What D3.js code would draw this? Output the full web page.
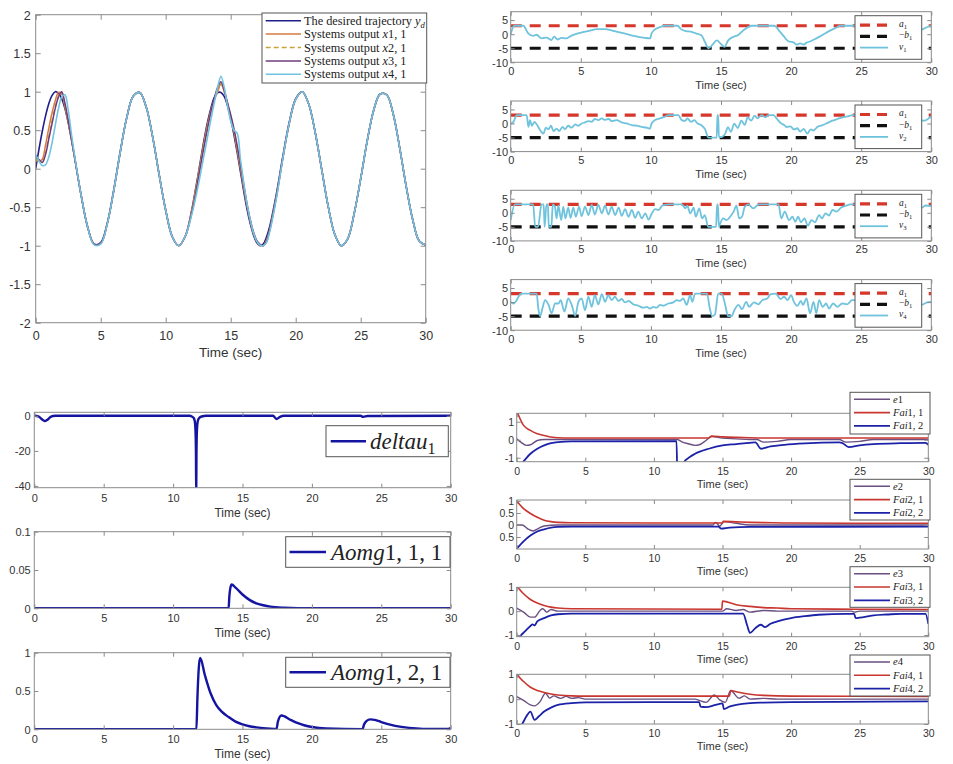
<!DOCTYPE html>
<html><head><meta charset="utf-8">
<script src="https://cdn.jsdelivr.net/npm/d3@7"></script>
<style>body{margin:0;background:#fff}svg{display:block}</style>
</head><body>
<svg id="c" width="953" height="764"></svg>
<script>
// ---------------- DATA ----------------
const xTicks = [0, 5, 10, 15, 20, 25, 30];

// Top-left: tracking
const tOut = [0,0.25,0.5,0.75,1,1.25,1.5,1.75,2,2.25,2.5,2.75,3,
  3.5,4,4.5,5,5.5,6,6.5,7,7.5,8,8.5,9,9.5,10,10.5,11,11.5,
  12,12.25,12.5,12.75,13,13.25,13.5,13.75,14,14.25,14.5,14.75,15,15.25,15.5,15.75,16,16.25,16.5,16.75,17,17.25,17.5,17.75,18,
  18.5,19,19.5,20,20.5,21,21.5,22,22.5,23,23.5,24,24.5,25,25.5,26,26.5,27,27.5,28,28.5,29,29.5,30];
const yd = [0,0.25,0.48,0.68,0.84,0.95,1.0,0.98,0.91,0.78,0.6,0.38,0.14,
  -0.35,-0.76,-0.98,-0.96,-0.71,-0.28,0.22,0.66,0.94,0.99,0.8,0.41,-0.08,-0.54,-0.88,-1.0,-0.88,
  -0.54,-0.31,-0.07,0.18,0.42,0.63,0.8,0.93,0.99,0.99,0.94,0.82,0.65,0.44,0.21,-0.04,-0.29,-0.52,-0.71,-0.86,-0.96,-1.0,-0.98,-0.89,-0.75,
  -0.34,0.15,0.6,0.91,1.0,0.84,0.47,-0.01,-0.49,-0.85,-1.0,-0.91,-0.58,-0.13,0.36,0.76,0.97,0.96,0.71,0.27,-0.23,-0.66,-0.94,-0.99];
const x11 = [0.1,0.1,0.12,0.3,0.52,0.72,0.88,0.99,0.97,0.8,0.6,0.38,0.14,
  -0.35,-0.76,-0.98,-0.97,-0.72,-0.29,0.21,0.66,0.94,0.99,0.8,0.41,-0.08,-0.54,-0.88,-1.0,-0.88,
  -0.55,-0.33,-0.09,0.15,0.39,0.6,0.77,0.9,1.0,1.1,1.0,0.85,0.68,0.48,0.24,0.0,-0.25,-0.48,-0.68,-0.84,-0.94,-0.99,-1.0,-0.93,-0.79,
  -0.37,0.12,0.58,0.9,1.0,0.84,0.47,-0.01,-0.49,-0.85,-1.0,-0.91,-0.58,-0.13,0.36,0.76,0.97,0.96,0.71,0.27,-0.23,-0.66,-0.94,-0.99];
const x21 = [0.12,0.1,0.08,0.2,0.42,0.62,0.8,0.94,0.99,0.82,0.62,0.39,0.14,
  -0.35,-0.76,-0.98,-0.97,-0.72,-0.29,0.21,0.66,0.94,0.99,0.8,0.41,-0.08,-0.54,-0.88,-1.0,-0.88,
  -0.56,-0.34,-0.1,0.14,0.37,0.58,0.76,0.9,1.01,1.11,1.01,0.85,0.69,0.49,0.26,0.02,-0.23,-0.47,-0.67,-0.83,-0.94,-0.99,-1.0,-0.94,-0.8,
  -0.38,0.12,0.58,0.9,1.0,0.84,0.47,-0.01,-0.49,-0.85,-1.0,-0.91,-0.58,-0.13,0.36,0.76,0.97,0.96,0.71,0.27,-0.23,-0.66,-0.94,-0.99];
const x31 = [0.15,0.12,0.08,0.18,0.38,0.58,0.78,0.93,1.0,0.85,0.63,0.39,0.14,
  -0.35,-0.76,-0.98,-0.97,-0.72,-0.29,0.21,0.66,0.94,0.99,0.8,0.41,-0.08,-0.54,-0.88,-1.0,-0.88,
  -0.58,-0.38,-0.14,0.1,0.33,0.55,0.75,0.92,1.06,1.13,1.02,0.86,0.7,0.52,0.3,0.05,-0.2,-0.45,-0.66,-0.82,-0.93,-0.98,-1.0,-0.95,-0.8,
  -0.38,0.13,0.59,0.9,1.0,0.84,0.47,-0.01,-0.49,-0.85,-1.0,-0.91,-0.58,-0.13,0.36,0.76,0.97,0.96,0.71,0.27,-0.23,-0.66,-0.94,-0.99];
const x41 = [0.18,0.1,0.04,0.05,0.15,0.33,0.56,0.78,0.93,0.96,0.76,0.45,0.16,
  -0.35,-0.76,-0.99,-0.98,-0.72,-0.29,0.21,0.66,0.94,0.99,0.8,0.41,-0.08,-0.54,-0.88,-1.0,-0.88,
  -0.6,-0.42,-0.22,0.0,0.22,0.44,0.66,0.87,1.06,1.2,1.06,0.82,0.62,0.5,0.46,0.12,-0.18,-0.45,-0.66,-0.83,-0.94,-0.99,-1.0,-0.96,-0.82,
  -0.4,0.12,0.59,0.9,1.0,0.84,0.47,-0.01,-0.49,-0.85,-1.0,-0.91,-0.58,-0.13,0.36,0.76,0.97,0.96,0.71,0.27,-0.23,-0.66,-0.94,-0.99];

// Top-right: bounds and virtual controls
const a1 = 3, negB1 = -5;
const v1 = [[0,0],[0.25,3],[0.9,3],[1.25,0.3],[1.6,-0.6],[1.85,-0.2],[2.2,-1.5],[2.55,-1.2],[2.9,-2.1],[3.1,-0.9],[3.35,-1.9],[3.6,-1.3],[3.95,-1.5],[4.3,-0.6],[4.8,0.3],[5.5,1.1],[6.2,1.8],[6.7,1.8],[7.4,1.1],[8.1,0.3],[8.85,-0.7],[9.55,-1.3],[9.95,-1.5],[10.05,0.3],[10.25,1.5],[10.7,2.6],[10.95,3],[11.9,3],[12.15,1.8],[12.5,1.1],[12.85,0.9],[13.2,0.3],[13.6,-0.4],[13.85,-2.7],[14.1,-5],[14.35,-4],[14.7,-2.2],[15.0,-3.5],[15.25,-4.5],[15.5,-2.3],[15.9,-0.9],[16.2,-0.4],[16.6,1.4],[16.95,2.6],[17.2,3],[18.8,3],[19.2,0.9],[19.5,-0.9],[19.8,-2.5],[20.2,-3],[20.4,-3.7],[20.65,-3.3],[20.9,-3.7],[21.1,-3],[21.4,-2.5],[21.8,-1.5],[22.2,-0.4],[22.7,1.1],[23.2,2.3],[23.5,3],[27,3],[29.3,1.6],[29.6,2.3],[30,3]];
const v2 = [[0,0],[0.2,0.6],[0.43,3],[1.14,3],[1.26,-1.2],[1.38,1.2],[1.5,-0.8],[1.69,0.6],[1.85,-0.3],[2.1,-2.4],[2.33,-3.6],[2.5,-1.5],[2.7,-2],[2.88,-0.8],[3.05,-2.7],[3.28,-1.8],[3.45,-2.7],[3.7,-1.2],[3.87,-2],[4.1,-0.8],[4.35,-1.5],[4.6,-0.3],[4.82,-0.8],[5.06,0],[5.3,0.4],[5.54,0.85],[5.78,0.6],[6.0,1.6],[6.25,1.2],[6.5,1.8],[6.73,1.3],[7.0,1.6],[7.2,0.85],[7.56,1.2],[7.9,0.4],[8.27,0],[8.63,-0.6],[9.0,-0.8],[9.34,-1.2],[9.7,-1.5],[9.94,-1.8],[10.05,0],[10.3,1.2],[10.65,1.8],[11.0,2.4],[11.25,3],[11.95,3],[12.2,1.2],[12.43,0.9],[12.6,1.8],[12.86,0.6],[13.1,1.2],[13.33,0],[13.6,-0.6],[13.86,-2],[14.1,-5],[14.7,-5],[14.74,3],[14.8,3],[14.85,-4.8],[15.05,-4.8],[15.3,-3.6],[15.5,-1.3],[15.7,-3],[15.95,-0.1],[16.2,-1.6],[16.45,1],[16.7,-0.5],[16.9,2.2],[17.15,1],[17.4,2.8],[17.6,1.8],[17.9,3],[18.15,2.2],[18.4,3],[18.75,3],[19.0,1.6],[19.25,0.2],[19.5,-0.5],[19.7,-1.3],[19.95,-1.0],[20.2,-2.1],[20.45,-1.7],[20.65,-2.9],[20.9,-1.9],[21.15,-3.6],[21.4,-2.1],[21.6,-2.5],[21.85,-1.3],[22.2,-0.7],[22.6,0.2],[22.95,1],[23.3,1.6],[23.65,2.2],[24.0,2.5],[24.4,3],[27,3],[29.5,1],[30,2.6]];
const v3 = [[0,-2.6],[0.3,3],[1.6,3],[1.75,-5],[1.95,-5],[2.2,3],[2.35,3],[2.42,-5],[2.55,3],[2.65,3],[2.72,-5],[2.9,-5],[3.0,3],[3.15,2.2],[3.27,-2],[3.4,2.5],[3.6,-2.6],[3.75,2.2],[3.9,-2],[4.1,1.8],[4.27,-1.8],[4.46,1.8],[4.65,-1.4],[4.87,2.2],[5.06,-1.2],[5.3,2.2],[5.54,-0.8],[5.78,2.8],[6.0,-0.6],[6.25,2.8],[6.5,-0.2],[6.73,2.5],[6.97,-0.6],[7.2,2.2],[7.45,-0.8],[7.7,1.8],[7.92,-1.1],[8.16,1.3],[8.4,-1.4],[8.64,1.0],[8.88,-1.8],[9.1,0.4],[9.35,-2],[9.6,-0.2],[9.83,-2.4],[10.07,-0.2],[10.3,1.3],[10.55,1.0],[10.8,2.5],[11.0,2.8],[11.3,3],[12.2,3],[12.45,1.6],[12.6,2.5],[12.8,-0.2],[13.05,1.8],[13.2,-1.4],[13.45,1.6],[13.65,-2],[13.85,-0.8],[14.08,-5],[14.65,-5],[14.72,3],[14.78,3],[14.85,-5],[14.9,-4.4],[15.15,-2],[15.4,-2.6],[15.65,-1.4],[15.9,0.4],[16.1,2.5],[16.3,-2],[16.5,-1.4],[16.7,2.2],[16.95,3],[17.3,1.6],[17.7,3],[19.1,3],[19.3,-2],[19.55,0.4],[19.85,-2.6],[20.1,-1.4],[20.3,-3.2],[20.5,-1.4],[20.7,-3.4],[20.95,-2],[21.2,-4.6],[21.45,-2.6],[21.7,-3.4],[22.0,-0.8],[22.2,-2],[22.45,-0.2],[22.7,-1.0],[22.95,1],[23.25,0.4],[23.55,1.8],[23.9,2.5],[24.25,3],[27,3],[29.3,1.8],[29.6,2.6],[30,2.4]];
const v4 = [[0,0.1],[0.2,-0.5],[0.43,0.7],[0.67,2.8],[0.78,3],[1.85,3],[1.97,-2.3],[2.1,-5],[2.26,-2.3],[2.45,0.7],[2.7,-1],[2.92,-4],[3.16,-0.5],[3.4,-0.5],[3.57,0.7],[3.83,-3.4],[4.1,1.3],[4.35,-1],[4.6,-4.9],[4.83,0.1],[5.06,1.3],[5.3,-2.9],[5.54,1.9],[5.78,-1.7],[6.0,2.5],[6.25,-0.8],[6.5,2.8],[6.73,0.1],[6.96,2.5],[7.2,0.7],[7.44,1.9],[7.68,0.4],[7.92,1.1],[8.15,-0.1],[8.4,0.4],[8.75,-0.8],[9.1,-1.3],[9.46,-2],[9.7,-1.7],[9.94,-2.3],[10.17,-1.7],[10.4,-2],[10.65,-1],[10.9,-1.3],[11.24,-0.5],[11.6,-0.1],[11.84,0.7],[12.07,0.4],[12.3,1.3],[12.55,-1],[12.8,2.5],[12.95,0.1],[13.15,3],[14.0,3],[14.2,-2.3],[14.38,-5],[14.57,-4.4],[14.8,3],[15.05,3],[15.3,-1],[15.5,-5],[15.75,-5],[15.95,-2.9],[16.25,-1],[16.5,-2.5],[16.8,0.1],[17.0,-1.7],[17.35,-0.1],[17.65,-0.8],[17.95,0.7],[18.3,1.3],[18.55,2.8],[18.9,3],[19.25,1.1],[19.5,1.9],[19.75,0.7],[20.0,2.5],[20.2,0.1],[20.45,-1.3],[20.7,0.4],[20.85,-1],[21.1,1.3],[21.35,-4],[21.6,0.1],[21.8,-4],[22.0,0.7],[22.25,-1.7],[22.5,-0.5],[22.7,-2.3],[23.0,-0.5],[23.3,-1.7],[23.65,-0.5],[24.0,-0.8],[24.35,0.7],[26,0.5],[29.3,-1],[29.7,-0.1],[30,0.1]];

// Bottom-left
const deltau1 = [[0,0],[0.3,-0.3],[0.55,-2],[0.75,-3],[0.95,-2.2],[1.2,-0.5],[1.5,0],[11.2,0],[11.35,-0.4],[11.48,-1.2],[11.56,-3],[11.61,-8],[11.645,-20],[11.665,-45],[11.685,-20],[11.72,-8],[11.78,-3],[11.88,-1.2],[12.05,-0.4],[12.4,0],[17.2,0],[17.45,-1.8],[17.7,-0.6],[18,0],[23.5,0],[23.7,-0.6],[24,-0.1],[30,0]];
const aomg111 = [[0,0],[14.0,0],[14.05,0.015],[14.12,0.026],[14.22,0.031],[14.5,0.027],[15,0.018],[15.5,0.011],[16,0.0065],[16.5,0.004],[17,0.0022],[18,0.0007],[19,0.0002],[30,0]];
const aomg121 = [[0,0],[11.68,0],[11.75,0.4],[11.85,0.8],[11.95,0.93],[12.3,0.7],[12.7,0.47],[13.1,0.32],[13.5,0.23],[14,0.16],[14.5,0.1],[15,0.065],[15.5,0.04],[16,0.025],[17,0.008],[17.45,0.005],[17.55,0.1],[17.8,0.18],[18.5,0.12],[19,0.08],[19.5,0.05],[20,0.03],[21,0.01],[23.65,0.002],[23.75,0.06],[23.95,0.11],[24.2,0.13],[24.6,0.12],[25,0.095],[26,0.045],[27,0.018],[28,0.006],[29.7,0.003],[30,0.015]];

// Bottom-right
const e1 = [[0,0.05],[0.3,-0.13],[0.7,-0.31],[1.0,-0.28],[1.5,-0.04],[2,0.01],[11.7,0.01],[12,-0.1],[12.5,-0.22],[13,-0.31],[13.3,-0.28],[13.8,-0.04],[14.2,0.18],[15,0.09],[16,0.05],[17,0.01],[17.5,0.01],[18,-0.13],[19,-0.09],[20,0.01],[23.5,0.01],[24,-0.13],[25,-0.09],[26,0.01],[30,0.01]];
const fai11 = [[0,1.6],[0.5,0.8],[1,0.52],[1.5,0.33],[2,0.24],[2.5,0.15],[3,0.11],[4,0.1],[14,0.1],[14.2,0.2],[15,0.16],[16,0.13],[17,0.11],[18,0.1],[30,0.1]];
const fai12 = [[0,-1.6],[0.5,-1.2],[1,-0.78],[1.5,-0.5],[2,-0.31],[2.5,-0.19],[3,-0.13],[4,-0.09],[11.65,-0.08],[11.72,-2.5],[12.0,-1.7],[12.2,-1.24],[12.5,-1.02],[13,-0.78],[14,-0.5],[15,-0.31],[16,-0.24],[17,-0.17],[17.4,-0.15],[17.8,-0.5],[18.5,-0.37],[19.5,-0.28],[21,-0.2],[23.5,-0.15],[23.7,-0.17],[24.2,-0.41],[25,-0.31],[26,-0.24],[28,-0.19],[29.8,-0.17],[30,-0.28]];
const e2 = [[0,0],[0.4,0],[0.8,-0.16],[1.2,-0.25],[1.6,-0.14],[2,-0.04],[3,0],[14.3,0],[14.5,0.11],[14.8,-0.05],[15.1,0.14],[16,0.07],[17,0],[30,0]];
const fai21 = [[0,1.0],[0.5,0.68],[1,0.48],[1.5,0.32],[2,0.2],[2.5,0.14],[3,0.11],[4,0.09],[15,0.08],[15.05,0.15],[16,0.13],[17,0.11],[18,0.1],[20,0.08],[30,0.07]];
const fai22 = [[0,-0.99],[0.5,-0.68],[1,-0.44],[1.5,-0.27],[2,-0.18],[2.5,-0.11],[3,-0.08],[4,-0.07],[14.7,-0.07],[14.9,-0.15],[15.5,-0.11],[17,-0.08],[30,-0.07]];
const e3 = [[0,0.13],[0.5,-0.04],[1,-0.25],[1.3,-0.25],[1.7,0.03],[1.9,0.1],[2.2,-0.04],[2.5,0.07],[3,0],[15,0],[15.3,0.1],[16,0.03],[16.5,0.07],[17,-0.04],[18,0.03],[19,0],[24.4,0],[24.6,-0.04],[25,0],[30,0]];
const fai31 = [[0,1.05],[0.5,0.73],[1,0.49],[1.5,0.34],[2,0.24],[2.5,0.17],[3,0.13],[4,0.1],[14.95,0.08],[15.0,0.42],[16,0.27],[17,0.2],[18,0.15],[19,0.13],[20,0.1],[25,0.08],[30,0.07]];
const fai32 = [[0,-1.3],[0.3,-1.02],[0.6,-0.85],[1,-0.62],[1.15,-0.55],[1.3,-0.6],[1.5,-0.43],[2,-0.29],[2.5,-0.18],[3,-0.13],[4,-0.1],[16.5,-0.1],[16.8,-0.6],[17.0,-0.91],[17.4,-0.71],[17.8,-0.57],[18.1,-0.67],[18.5,-0.53],[19,-0.43],[20,-0.29],[21,-0.21],[22,-0.15],[24,-0.11],[24.6,-0.11],[24.7,-0.29],[25,-0.27],[26,-0.18],[27,-0.14],[28,-0.11],[29.8,-0.11],[30,-0.53]];
const e4 = [[0,0.1],[0.5,-0.05],[1,-0.23],[1.3,-0.27],[1.7,-0.1],[2.1,0.24],[2.4,0.04],[2.7,0.13],[3.2,0.03],[3.6,0.11],[4,0.03],[4.5,0.06],[5,0],[13,0],[13.3,-0.05],[13.8,-0.13],[14.4,0.17],[14.8,-0.03],[15.2,-0.13],[15.6,0.35],[16.2,0.04],[16.6,0.13],[17,0],[18,0.03],[19,0],[30,0]];
const fai41 = [[0,1.0],[0.5,0.71],[1,0.48],[1.5,0.35],[2,0.27],[2.5,0.21],[3,0.17],[4,0.13],[5,0.12],[15.5,0.12],[15.6,0.35],[16,0.3],[17,0.2],[18,0.15],[20,0.12],[30,0.11]];
const fai42 = [[0,-1.3],[0.4,-1.0],[0.7,-0.7],[1.0,-0.5],[1.3,-0.83],[1.6,-0.7],[2,-0.5],[2.5,-0.34],[3,-0.23],[4,-0.16],[5,-0.13],[13.3,-0.12],[13.4,-0.3],[13.8,-0.32],[14.5,-0.23],[15,-0.17],[15.1,-0.4],[15.5,-0.3],[16,-0.23],[17,-0.16],[18,-0.14],[20,-0.12],[30,-0.09]];

// ---------------- DRAWING ----------------
const svg = d3.select('#c');
const SANS = 'Liberation Sans, Arial, Helvetica, sans-serif';
const SERIF = 'Liberation Serif, Times New Roman, DejaVu Serif, serif';
const AX = '#8a8a8a', TXT = '#333';
let clipN = 0;
const defs = svg.append('defs');
const leftRoot = svg.append('g');
const rightRoot = svg.append('g');

function pairs(t, v){ return t.map((d,i)=>[d, v[i]]); }

function panel(root, o){
  const g = root.append('g');
  const x = d3.scaleLinear().domain([0,30]).range([o.x0,o.x1]);
  const y = d3.scaleLinear().domain(o.yd).range([o.y1,o.y0]);
  const id = 'cp'+(clipN++);
  defs.append('clipPath').attr('id',id).append('rect').attr('x',o.x0).attr('y',o.y0).attr('width',o.x1-o.x0).attr('height',o.y1-o.y0);
  g.append('rect').attr('x',o.x0).attr('y',o.y0).attr('width',o.x1-o.x0).attr('height',o.y1-o.y0).attr('fill','#fff');
  const line = d3.line().x(d=>x(d[0])).y(d=>y(d[1])).curve(o.curve || d3.curveMonotoneX);
  const lg = g.append('g').attr('clip-path',`url(#${id})`);
  o.series.forEach(s=>{
    lg.append('path').attr('d', line(s.data)).attr('fill','none').attr('stroke',s.c)
      .attr('stroke-width',s.w).attr('stroke-dasharray',s.dash||null).attr('stroke-linejoin','round');
  });
  const tl = o.tl || 4;
  const style = sel => { sel.select('.domain').remove(); sel.selectAll('line').attr('stroke',AX);
    sel.selectAll('text').attr('fill',TXT).attr('font-size',o.fs).attr('font-family',SANS); };
  const xb = g.append('g').attr('transform',`translate(0,${o.y1})`)
    .call(d3.axisBottom(x).tickValues(xTicks).tickSize(-tl).tickFormat(d=>String(d)));
  style(xb); xb.selectAll('text').attr('y',o.xlOff).attr('dy','0.35em');
  const xt = g.append('g').attr('transform',`translate(0,${o.y0})`)
    .call(d3.axisTop(x).tickValues(xTicks).tickSize(-tl).tickFormat(''));
  style(xt);
  const yl = g.append('g').attr('transform',`translate(${o.x0},0)`)
    .call(d3.axisLeft(y).tickValues(o.yt).tickSize(-tl).tickFormat(o.yf || (d=>String(d))));
  style(yl); yl.selectAll('text').attr('x',o.ylX-o.x0).attr('dy','0.35em');
  const yr = g.append('g').attr('transform',`translate(${o.x1},0)`)
    .call(d3.axisRight(y).tickValues(o.yt).tickSize(-tl).tickFormat(''));
  style(yr);
  g.append('rect').attr('x',o.x0).attr('y',o.y0).attr('width',o.x1-o.x0).attr('height',o.y1-o.y0)
    .attr('fill','none').attr('stroke',AX).attr('stroke-width',1);
  g.append('text').attr('x',(o.x0+o.x1)/2).attr('y',o.y1+o.labOff).attr('dy','0.35em')
    .attr('text-anchor','middle').attr('font-family',SANS).attr('font-size',o.labFs).attr('fill',TXT).text('Time (sec)');
  return {x,y,g};
}

function rich(g, x, y, parts, size, subShift){
  const t = g.append('text').attr('x',x).attr('y',y).attr('font-size',size).attr('font-family',SERIF).attr('fill','#222');
  let shift = 0;
  parts.forEach(p=>{
    const s = t.append('tspan').text(p.t);
    if (p.i) s.attr('font-style','italic');
    const target = p.sub ? size*(subShift||0.3) : 0;
    if (target !== shift){ s.attr('dy', target-shift); shift = target; }
    if (p.sub) s.attr('font-size', size*0.7);
  });
}

function legend(root, o){
  const g = root.append('g');
  g.append('rect').attr('x',o.x).attr('y',o.y).attr('width',o.w).attr('height',o.h)
    .attr('fill','#fff').attr('stroke','#555').attr('stroke-width',1);
  o.rows.forEach((r,i)=>{
    const cy = o.y + o.r0 + i*o.dr;
    g.append('line').attr('x1',o.lx0).attr('x2',o.lx1).attr('y1',cy).attr('y2',cy)
      .attr('stroke',r.c).attr('stroke-width',r.w).attr('stroke-dasharray',r.dash||null);
    rich(g, o.tx, cy + o.fs*(o.base||0.33), r.parts, o.fs, o.sub);
  });
}

// ---- Top-left ----
const C_YD = '#1f1f8a', C_X1 = '#d77a42', C_X2 = '#c9a23a', C_X3 = '#6e3c7e', C_X4 = '#72c2e2';
panel(leftRoot, {x0:35.7,x1:425.7,y0:14.7,y1:322.7,yd:[-2,2],yt:[-2,-1.5,-1,-0.5,0,0.5,1,1.5,2],
  fs:12.5,xlOff:12.5,labOff:29.5,labFs:13.5,ylX:30.7,tl:5, curve:d3.curveCatmullRom,
  series:[
    {data:pairs(tOut,yd),c:C_YD,w:1.6},
    {data:pairs(tOut,x11),c:C_X1,w:1.5},
    {data:pairs(tOut,x21),c:C_X2,w:1.3,dash:'5,3'},
    {data:pairs(tOut,x31),c:C_X3,w:1.5},
    {data:pairs(tOut,x41),c:C_X4,w:1.6}
  ]});
legend(leftRoot,{x:262,y:13,w:164.7,h:70,r0:7.7,dr:13.4,lx0:265.7,lx1:301,tx:304,fs:12.3,
  rows:[
    {c:C_YD,w:1.6,parts:[{t:'The desired trajectory '},{t:'y',i:true},{t:'d',i:true,sub:true}]},
    {c:C_X1,w:1.5,parts:[{t:'Systems output '},{t:'x',i:true},{t:'1, 1'}]},
    {c:C_X2,w:1.3,dash:'5,3',parts:[{t:'Systems output '},{t:'x',i:true},{t:'2, 1'}]},
    {c:C_X3,w:1.5,parts:[{t:'Systems output '},{t:'x',i:true},{t:'3, 1'}]},
    {c:C_X4,w:1.6,parts:[{t:'Systems output '},{t:'x',i:true},{t:'4, 1'}]}
  ]});

// ---- Top-right ----
const C_A = '#d6372b', C_B = '#111', C_V = '#6fc3dc';
const vs = [v1,v2,v3,v4];
const tops = [11.7,101,190.3,279.6];
vs.forEach((v,k)=>{
  const top = tops[k];
  panel(rightRoot,{x0:510.7,x1:931.3,y0:top,y1:top+50.6,yd:[-10,8],yt:[-10,-5,0,5],
    fs:11,xlOff:8.7,labOff:22.7,labFs:11,ylX:508,tl:4,curve:d3.curveMonotoneX,
    series:[
      {data:[[0,a1],[30,a1]],c:C_A,w:3.2,dash:'11,8'},
      {data:[[0,negB1],[30,negB1]],c:C_B,w:3.2,dash:'11,8'},
      {data:v,c:C_V,w:1.8}
    ]});
  legend(rightRoot,{x:855,y:top+4,w:66.7,h:43.6,r0:9.5,dr:11.2,lx0:860,lx1:888,tx:899,fs:9.5,base:0.2,sub:0.22,
    rows:[
      {c:C_A,w:3.2,dash:'10,7',parts:[{t:'a',i:true},{t:'1',sub:true}]},
      {c:C_B,w:3.2,dash:'10,7',parts:[{t:'\u2212'},{t:'b',i:true},{t:'1',sub:true}]},
      {c:C_V,w:1.8,parts:[{t:'v',i:true},{t:String(k+1),sub:true}]}
    ]});
});

// ---- Bottom-left ----
const C_D = '#1414a0';
const blp = [
  {y0:412.3,y1:487.7,yd:[-41,2],yt:[-40,-20,0],data:deltau1,leg:{y:425.7,x:326,w:122.3,h:31,lx0:330.7,lx1:366,tx:370},
   parts:[{t:'deltau',i:true},{t:'1',sub:true}]},
  {y0:531.7,y1:608.3,yd:[0,0.1],yt:[0,0.05,0.1],data:aomg111,leg:{y:536.7,x:285.7,w:164.3,h:30.6,lx0:289.5,lx1:326,tx:331},
   parts:[{t:'Aomg',i:true},{t:'1, 1, 1'}]},
  {y0:652.7,y1:729.3,yd:[0,1],yt:[0,0.5,1],data:aomg121,leg:{y:657.3,x:285.7,w:164.3,h:30,lx0:289.5,lx1:326,tx:331},
   parts:[{t:'Aomg',i:true},{t:'1, 2, 1'}]}
];
blp.forEach(p=>{
  panel(leftRoot,{x0:34.3,x1:450.7,y0:p.y0,y1:p.y1,yd:p.yd,yt:p.yt,fs:11,xlOff:10.3,labOff:24.6,labFs:12,ylX:30.7,tl:4,
    curve:d3.curveMonotoneX, series:[{data:p.data,c:C_D,w:2.4}]});
  const L = p.leg;
  legend(leftRoot,{x:L.x,y:L.y,w:L.w,h:L.h,r0:L.h/2,dr:0,lx0:L.lx0,lx1:L.lx1,tx:L.tx,fs:23,sub:0.22,
    rows:[{c:C_D,w:2.4,parts:p.parts}]});
});

// ---- Bottom-right ----
const C_E = '#6b4f80', C_F1 = '#c9362f', C_F2 = '#1c22a8';
const brp = [
  {y0:413.3,y1:461.7,yd:[-1.22,1.47],yt:[-1,0,1],e:e1,f1:fai11,f2:fai12,ly:392.3,lh:41.7,n:1},
  {y0:500,y1:549,yd:[-1,1.04],yt:[-0.5,0,0.5,1],e:e2,f1:fai21,f2:fai22,ly:479.3,lh:40.7,n:2,
   yf:d=>String(Math.abs(d))},
  {y0:587.3,y1:636.7,yd:[-1.07,1.0],yt:[-1,0,1],e:e3,f1:fai31,f2:fai32,ly:566.7,lh:40.6,n:3},
  {y0:674.3,y1:724,yd:[-1,1],yt:[-1,0,1],e:e4,f1:fai41,f2:fai42,ly:655,lh:41,n:4}
];
brp.forEach(p=>{
  panel(rightRoot,{x0:516.7,x1:928.3,y0:p.y0,y1:p.y1,yd:p.yd,yt:p.yt,yf:p.yf,fs:10.5,xlOff:9.3,labOff:22.6,labFs:11,ylX:514,tl:4,
    curve:d3.curveMonotoneX,
    series:[{data:p.e,c:C_E,w:1.4},{data:p.f1,c:C_F1,w:1.6},{data:p.f2,c:C_F2,w:1.8}]});
  legend(rightRoot,{x:850,y:p.ly,w:80,h:p.lh,r0:7,dr:13.3,lx0:854,lx1:890,tx:893,fs:10.5,
    rows:[
      {c:C_E,w:1.4,parts:[{t:'e',i:true},{t:String(p.n)}]},
      {c:C_F1,w:1.6,parts:[{t:'Fai',i:true},{t:p.n+', 1'}]},
      {c:C_F2,w:1.8,parts:[{t:'Fai',i:true},{t:p.n+', 2'}]}
    ]});
});
</script>
</body></html>
